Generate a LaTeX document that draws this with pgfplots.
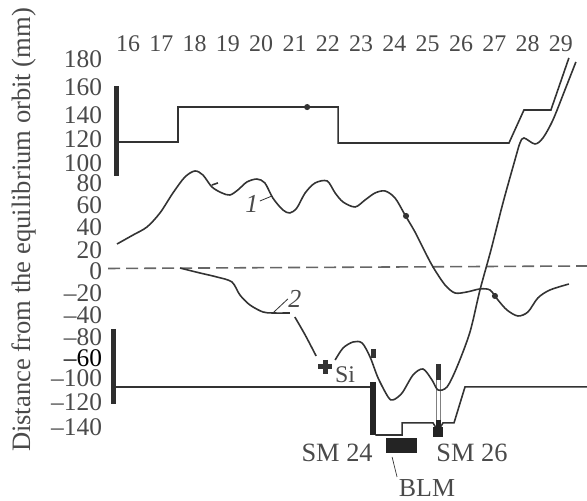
\documentclass[border=0pt]{standalone}
\usepackage{fontspec}
\setmainfont{Liberation Serif}
\usepackage{pgfplots}
\pgfplotsset{compat=1.18}
\definecolor{ink}{HTML}{333333}
\definecolor{txt}{HTML}{4A4A4A}
\begin{document}
\begin{tikzpicture}
\begin{axis}[
  scale only axis, width=587bp, height=501bp,
  xmin=12.156, xmax=29.784, ymin=-200.9, ymax=234.8,
  axis line style={draw=none}, tick style={draw=none},
  major tick length=0pt,
  xticklabel pos=upper,
  xtick={16,17,18,19,20,21,22,23,24,25,26,27,28,29},
  xticklabels={16,17,18,19,20,21,22,23,24,25,26,27,28,29},
  ytick={183.5,159.1,134.8,113.9,93.0,75.7,56.5,37.4,17.4,-1,-20,-39.1,-58.3,-76.5,-93.9,-114.8,-136.5},
  yticklabels={180,160,140,120,100,80,60,40,20,0,–20,–40,–80,\textcolor{black}{–60},–100,–120,–140},
  every tick label/.append style={text=txt},
  xticklabel style={font=\fontsize{24}{24}\selectfont, anchor=center, yshift=-44bp},
  yticklabel style={font=\fontsize{25.5}{25.5}\selectfont, anchor=east, xshift=102bp},
  tick label style={inner sep=0pt, outer sep=0pt},
  every axis plot/.append style={line width=1.6pt, color=ink, mark=none},
  scaled ticks=false,
]
% dashed zero line
\addplot[color=black!60, line width=1.6pt, dash pattern=on 12bp off 6bp] coordinates {(15.40,1.3) (29.78,3.5)};
% aperture top
\addplot[sharp plot] coordinates {(15.67,111.3) (17.50,111.3) (17.50,141.7) (22.31,141.7) (22.31,110.4) (27.44,110.4) (27.89,139.1) (28.70,139.1) (29.24,184.4)};
% aperture bottom
\addplot[sharp plot] coordinates {(15.55,-101.7) (23.27,-101.7)};
\addplot[sharp plot] coordinates {(23.43,-143.5) (24.23,-143.5) (24.23,-133.0) (25.16,-133.0) (25.31,-140) (25.46,-133.0) (25.79,-133.0) (26.12,-101.7) (29.78,-101.7)};
% vertical bars
\addplot[line width=5bp, color=ink!90!black] coordinates {(15.64,160.0) (15.64,81.7)};
\addplot[line width=5bp, color=ink!90!black] coordinates {(15.55,-51.3) (15.55,-116.5)};
\addplot[line width=6.5bp, color=ink!70!black] coordinates {(23.36,-97.4) (23.36,-143.5)};
\addplot[line width=5bp, color=ink] coordinates {(23.36,-68.7) (23.36,-76.5)};
% SM 26 bar
\addplot[line width=5bp, color=ink] coordinates {(25.31,-81.7) (25.31,-95.7)};
\addplot[line width=5bp, color=gray] coordinates {(25.31,-95.7) (25.31,-130.4)};
\addplot[line width=3bp, color=white] coordinates {(25.31,-95.7) (25.31,-130.4)};
\addplot[line width=5bp, color=ink!70!black] coordinates {(25.31,-130.4) (25.31,-137)};
\addplot[line width=10bp, color=ink!70!black] coordinates {(25.31,-136.5) (25.31,-145.2)};
% BLM block
\addplot[fill=ink!70!black, draw=none] coordinates {(23.75,-146.1) (24.68,-146.1) (24.68,-159.1) (23.75,-159.1)} --cycle;
% leaders
\addplot[line width=0.7pt] coordinates {(23.93,-162.6) (24.08,-180)};
\addplot[line width=0.8pt] coordinates {(19.96,60.0) (20.32,64.3)};
\addplot[line width=0.8pt] coordinates {(20.35,-37.4) (20.80,-25.2)};
% curve 1
\addplot[smooth, tension=0.5] coordinates {
(15.67,22.6)(16.15,30.4)(16.57,37.4)(16.96,49.6)(17.35,67.0)(17.71,80.9)(18.01,86.1)(18.25,82.6)(18.52,72.2)(18.82,67.0)(19.06,65.2)(19.30,69.6)(19.57,76.5)(19.87,79.1)(20.11,75.7)(20.35,62.6)(20.65,52.2)(20.86,49.6)(21.07,53.9)(21.32,67.0)(21.62,75.7)(21.98,77.4)(22.22,67.0)(22.46,59.1)(22.82,54.8)(23.12,60.9)(23.42,67.0)(23.72,68.7)(24.02,62.6)(24.32,47.8)(24.62,33.0)(24.89,17.4)(25.16,2.6)(25.52,-13.0)(25.82,-20.0)(26.18,-19.1)(26.57,-16.5)(26.87,-17.4)(27.11,-26.1)(27.38,-34.8)(27.71,-40.0)(28.01,-36.5)(28.31,-24.3)(28.67,-17.4)(29.24,-12.2)};
% curve 2
\addplot[smooth, tension=0.5] coordinates {(17.56,1.7)(18.16,-2.6)(18.67,-6.1)(19.12,-10.4)(19.36,-21.7)(19.66,-30.4)(20.05,-36.5)(20.35,-37.4)(20.86,-37.4)};
\addplot[smooth, tension=0.5] coordinates {(21.01,-40.9)(21.32,-56.5)(21.65,-74.8)};
\addplot[smooth, tension=0.5] coordinates {(22.22,-78.3)(22.46,-67.8)(22.76,-62.6)(23.03,-63.5)(23.27,-75.7)(23.51,-93.9)(23.81,-110.4)(23.96,-113.0)(24.23,-107.0)(24.56,-91.3)(24.86,-86.1)(25.13,-95.7)(25.31,-104.3)(25.58,-101.7)(25.88,-84.3)(26.27,-53.9)(26.57,-17.4)(26.90,17.4)(27.26,58.3)(27.62,95.7)(27.77,110.4)(27.89,114.8)(28.22,109.6)(28.46,114.8)(28.76,130.4)(29.12,156.5)(29.45,180.9)};
% small marks
\addplot[only marks, mark=*, mark size=2.2bp, color=ink, mark options={fill=ink}] coordinates {(21.38,141.7)(24.35,47)(27.02,-22.6)};
\addplot[line width=1.6pt] coordinates {(18.52,73.9)(18.70,75.7)};
\addplot[only marks, mark=+, mark size=7bp, color=ink, mark options={line width=5bp, draw=ink}] coordinates {(21.92,-84.3)};
% texts
\node[rotate=90, inner sep=0pt, text=txt, font=\fontsize{26.7}{26.7}\selectfont] at (axis cs:12.88,34.8) {Distance from the equilibrium orbit (mm)};
\node[inner sep=0pt, text=txt, font=\fontsize{24}{24}\selectfont] at (axis cs:22.52,-91) {Si};
\node[inner sep=0pt, text=txt, font=\fontsize{26.5}{26.5}\selectfont] at (axis cs:22.28,-159.1) {SM 24};
\node[inner sep=0pt, text=txt, font=\fontsize{26.5}{26.5}\selectfont] at (axis cs:26.33,-159.1) {SM 26};
\node[inner sep=0pt, text=txt, font=\fontsize{26}{26}\selectfont] at (axis cs:24.98,-190) {BLM};
\node[inner sep=0pt, text=txt, font=\itshape\fontsize{26}{26}\selectfont] at (axis cs:19.72,57.4) {1};
\node[inner sep=0pt, text=txt, font=\itshape\fontsize{26}{26}\selectfont] at (axis cs:21.01,-25.2) {2};
\end{axis}
\end{tikzpicture}
\end{document}
